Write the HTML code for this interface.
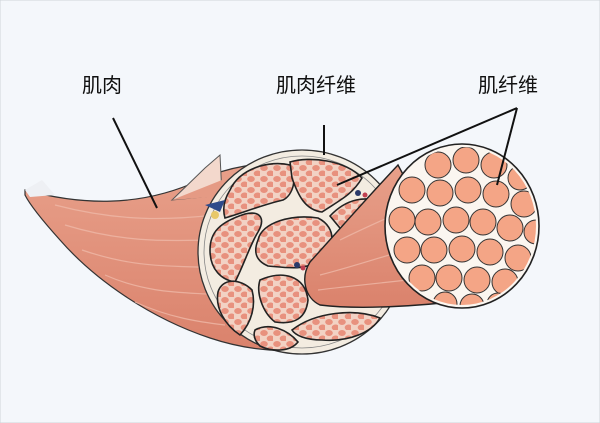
<!DOCTYPE html>
<html><head><meta charset="utf-8"><style>
body{margin:0;background:#fff}
svg{display:block}
text{font-family:"Liberation Sans","Noto Sans CJK SC",sans-serif;font-size:20px;fill:#111}
</style></head><body>
<svg width="600" height="423" viewBox="0 0 600 423" xmlns="http://www.w3.org/2000/svg">
<defs>
<pattern id="cells" width="13" height="11" patternUnits="userSpaceOnUse">
<rect width="13" height="11" fill="#f2d2c4"/>
<ellipse cx="4" cy="3" rx="3.8" ry="3" fill="#e8917e"/>
<ellipse cx="10.5" cy="8.5" rx="3.8" ry="3" fill="#e8917e"/>
</pattern>
<linearGradient id="mus" x1="0" y1="0" x2="0" y2="1">
<stop offset="0" stop-color="#e8a08a"/><stop offset="1" stop-color="#da826c"/>
</linearGradient>
<clipPath id="ec"><ellipse cx="462" cy="226" rx="74" ry="79"/></clipPath>
</defs>
<rect x="0" y="0" width="600" height="423" fill="#f4f7fb" stroke="#cfd4da"/>
<!-- big muscle -->
<path d="M25,190 C80,205 140,208 200,180 C225,168 260,160 300,165 L300,350 C270,352 240,348 210,338 C150,318 95,280 60,240 C42,220 30,205 25,195 Z" fill="url(#mus)" stroke="#333" stroke-width="1.2"/>
<path d="M25,190 L42,180 L55,195 L30,197 Z" fill="#eef0f4"/>
<g stroke="#efb9a8" stroke-width="1.2" fill="none" opacity=".8">
<path d="M55,205 C120,222 170,220 215,215"/><path d="M65,225 C130,245 180,240 215,240"/>
<path d="M82,250 C140,270 180,265 215,268"/><path d="M105,275 C150,295 190,292 220,295"/>
<path d="M135,302 C170,318 200,322 225,325"/>
</g>
<path d="M172,200 L205,168 L220,155 L222,195 Z" fill="#f3d8cc" stroke="#555" stroke-width="1"/>
<path d="M172,200 L222,180 L224,196 Z" fill="#e59a84"/>
<!-- cross section -->
<ellipse cx="302" cy="252" rx="104" ry="102" fill="#f3ece1" stroke="#333" stroke-width="1.3"/>
<ellipse cx="302" cy="252" rx="98" ry="96" fill="none" stroke="#888" stroke-width="0.8"/>
<g fill="url(#cells)" stroke="#222" stroke-width="1.6">
<path d="M230,190 C240,168 270,160 290,165 C298,178 293,195 283,200 C262,205 245,212 225,218 C222,208 225,198 230,190Z"/>
<path d="M290,162 C310,156 345,160 362,178 C352,195 340,200 322,212 C305,210 298,195 292,178Z"/>
<path d="M330,216 C345,200 365,193 390,205 C396,220 392,240 378,258 C360,255 350,240 330,216Z"/>
<path d="M210,250 C210,232 220,222 245,214 C262,210 265,220 258,232 C250,245 245,262 235,282 C222,280 210,270 210,250Z"/>
<path d="M258,240 C262,222 292,214 318,218 C338,228 335,250 318,262 C302,270 290,268 268,266 C254,260 254,250 258,240Z"/>
<path d="M218,292 C222,278 240,278 252,290 C256,305 252,322 240,335 C225,325 215,308 218,292Z"/>
<path d="M260,280 C282,270 305,275 308,300 C306,318 295,325 275,322 C262,312 256,292 260,280Z"/>
<path d="M292,330 C315,312 355,308 380,318 C372,332 350,342 322,340 C305,340 295,335 292,330Z"/>
<path d="M255,330 C270,322 288,330 298,342 C290,352 272,352 260,346 C254,340 253,335 255,330Z"/>
</g>
<circle cx="297" cy="265" r="3" fill="#2a3a6a"/><circle cx="303" cy="268" r="2.5" fill="#c04050"/>
<circle cx="358" cy="193" r="3" fill="#2a3a6a"/><circle cx="365" cy="195" r="2.5" fill="#c04050"/>
<path d="M205,205 L225,200 L220,212 Z" fill="#2d4a8a"/><circle cx="215" cy="215" r="4" fill="#e8c86a"/>
<!-- fiber bundle tube -->
<path d="M310,262 C330,240 365,200 398,165 L470,300 C420,306 360,310 320,305 C305,298 300,278 310,262Z" fill="url(#mus)" stroke="#222" stroke-width="1.4"/>
<g stroke="#efb9a8" stroke-width="1.2" fill="none" opacity=".8">
<path d="M320,275 C360,265 400,250 430,245"/><path d="M318,290 C360,285 410,280 450,275"/>
<path d="M340,240 C370,225 395,215 415,205"/>
</g>
<ellipse cx="462" cy="226" rx="77" ry="82" fill="#fbf6f0" stroke="#222" stroke-width="1.6"/>
<g clip-path="url(#ec)" fill="#f4a586" stroke="#333" stroke-width="1">
<circle cx="438" cy="165" r="13"/><circle cx="466" cy="160" r="13"/><circle cx="494" cy="165" r="13"/><circle cx="520" cy="178" r="12"/>
<circle cx="412" cy="190" r="13"/><circle cx="440" cy="193" r="13"/><circle cx="468" cy="190" r="13"/><circle cx="496" cy="194" r="13"/><circle cx="524" cy="204" r="13"/>
<circle cx="402" cy="220" r="13"/><circle cx="428" cy="222" r="13"/><circle cx="456" cy="220" r="13"/><circle cx="483" cy="222" r="13"/><circle cx="510" cy="228" r="13"/><circle cx="536" cy="232" r="12"/>
<circle cx="407" cy="250" r="13"/><circle cx="434" cy="250" r="13"/><circle cx="462" cy="249" r="13"/><circle cx="490" cy="252" r="13"/><circle cx="518" cy="258" r="13"/>
<circle cx="422" cy="278" r="13"/><circle cx="449" cy="278" r="13"/><circle cx="477" cy="280" r="13"/><circle cx="505" cy="282" r="13"/>
<circle cx="445" cy="304" r="12"/><circle cx="472" cy="306" r="12"/><circle cx="498" cy="304" r="11"/>
</g>
<!-- labels & leaders -->
<text x="82" y="92">肌肉</text>
<text x="276" y="92">肌肉纤维</text>
<text x="478" y="92">肌纤维</text>
<g stroke="#111" stroke-width="2" fill="none">
<path d="M113,118 L157,208"/>
<path d="M324,125 L324,155"/>
<path d="M517,108 L337,185"/>
<path d="M517,108 L497,185"/>
</g>
</svg>
</body></html>
